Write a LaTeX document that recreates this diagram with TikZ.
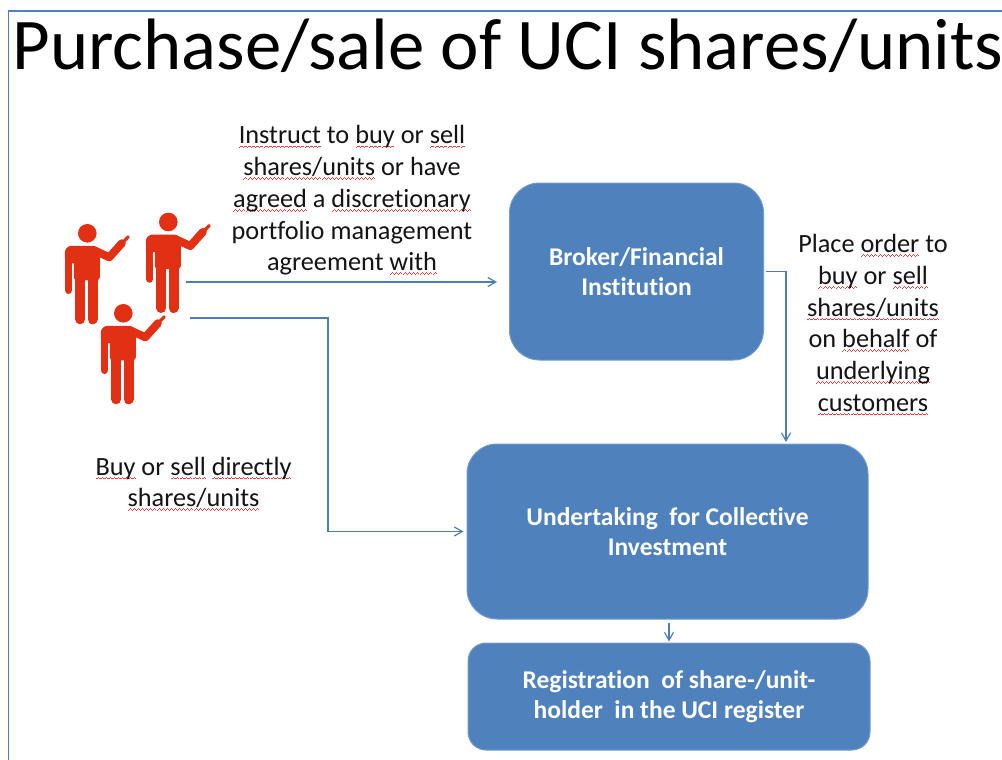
\documentclass[tikz,border=0pt]{standalone}
\usepackage{fontspec}
\setmainfont{Carlito}[Ligatures=NoCommon]
\usetikzlibrary{arrows.meta}
\definecolor{boxblue}{RGB}{79,129,189}
\definecolor{linec}{RGB}{74,126,187}
\definecolor{framec}{RGB}{79,129,189}
\definecolor{pred}{RGB}{226,48,20}
\definecolor{squig}{RGB}{238,60,60}
\definecolor{txt}{RGB}{20,20,20}
\newsavebox\sqbox
\newcommand\sq[1]{\sbox\sqbox{#1}\leavevmode\rlap{\color{squig}\hbox to\wd\sqbox{\xleaders\hbox{\rule[-4.2pt]{1pt}{1pt}\rule[-3.4pt]{1pt}{1pt}\rule[-2.6pt]{1pt}{1pt}\rule[-3.4pt]{1pt}{1pt}}\hfil}}\usebox\sqbox}
\tikzset{
  person/.pic={
    \fill[pred] (0,0) circle (9.3);
    \fill[pred, rounded corners=7pt] (-22.5,12.5) rectangle (12.5,30);
    \fill[pred, rounded corners=3pt] (-13.5,20) rectangle (12.5,47);
    \draw[pred, line width=7.5pt, line cap=round] (-18.8,24) -- (-18.8,57);
    \draw[pred, line width=10pt, line cap=round] (-7,40) -- (-7,86) (5.2,40) -- (5.2,86);
    \draw[pred, line width=8pt, line cap=round, line join=round] (8,17.5) -- (22,24) -- (34.5,10);
    \draw[pred, line width=3.2pt, line cap=round] (33,11.5) -- (41,3.5);
  },
  box/.style={fill=boxblue, draw=boxblue!80!white, line width=1pt, text=white,
    font=\bfseries\fontsize{25.5}{29.8}\selectfont, align=center, inner sep=0pt},
  lbl/.style={font=\fontsize{26.3}{31.7}\selectfont, align=center, inner sep=0pt, text=txt},
  conn/.style={draw=linec, line width=1.2pt, -{Straight Barb[length=8pt,width=9pt]}}
}
\begin{document}
\begin{tikzpicture}[x=1pt,y=-1pt]
\useasboundingbox (0,0) rectangle (1002,760);
\fill[white] (0,0) rectangle (1002,760);
\draw[framec, line width=1.5pt] (8.7,760) -- (8.7,11) -- (1002,11);

\node[anchor=base west, inner sep=0pt, font=\fontsize{72.8}{86}\selectfont] (title) at (12.5,70) {Purchase/sale of UCI shares/units};

\pic at (87.3,233.3) {person};
\pic at (168.3,222) {person};
\pic at (123.3,313.3) {person};

\node[box, minimum width=254pt, minimum height=177pt, rounded corners=30pt] (broker) at (636.5,271.5) {Broker/Financial\\Institution};
\node[box, minimum width=401pt, minimum height=175pt, rounded corners=30pt] (uci) at (667.5,531.5) {Undertaking\ \ for Collective\\Investment};
\node[box, minimum width=402pt, minimum height=107pt, rounded corners=18pt] (reg) at (669,696.5) {Registration\ \ of share-/unit-\\holder\ \ in the UCI register};

\node[lbl] (instr) at (352,200.5) {\sq{Instruct} to \sq{buy} or \sq{sell}\\ \sq{shares/units} or have\\ \sq{agreed} a \sq{discretionary}\\ portfolio management\\ agreement \sq{with}};
\node[lbl] (place) at (873,325) {Place \sq{order} to\\ \sq{buy} or \sq{sell}\\ \sq{shares/units}\\ on \sq{behalf} of\\ \sq{underlying}\\ \sq{customers}};
\node[lbl] (direct) at (193.5,484) {\sq{Buy} or \sq{sell} \sq{directly}\\ \sq{shares/units}};

\coordinate (a1s) at (186,282);
\coordinate (a2s) at (190,318);
\coordinate (a2x) at (328,400);
\coordinate (a3x) at (786,442);

\draw[conn, shorten >=12pt] (a1s) -- (broker.west |- a1s);
\draw[conn, shorten >=3pt] (a2s) -| (a2x) |- (uci.west);
\draw[conn, shorten <=2pt] (broker.east) -| (a3x);
\draw[conn, shorten <=3pt, shorten >=1pt] (uci.south -| reg.north) -- (reg.north);
\end{tikzpicture}
\end{document}
